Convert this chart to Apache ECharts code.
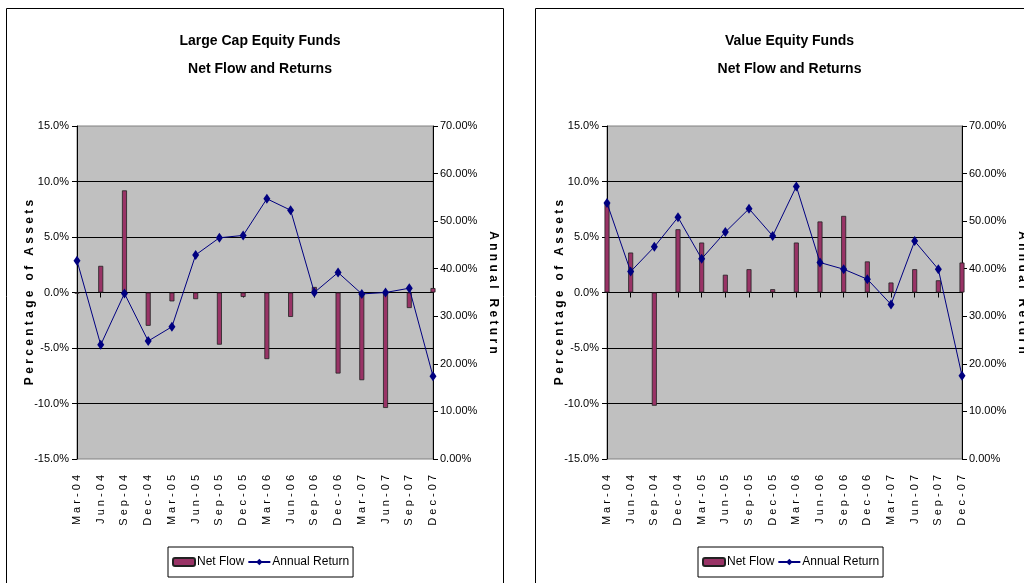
<!DOCTYPE html>
<html>
<head>
<meta charset="utf-8">
<script src="https://cdn.jsdelivr.net/npm/echarts@6/dist/echarts.min.js"></script>
<style>
  html, body { margin: 0; padding: 0; background: #fff; }
  #chart { width: 1024px; height: 583px; }
</style>
</head>
<body>
<div id="chart"></div>
<script>
// Quarter labels shared by both panels
const categories = ['Mar-04', 'Jun-04', 'Sep-04', 'Dec-04', 'Mar-05', 'Jun-05', 'Sep-05', 'Dec-05',
    'Mar-06', 'Jun-06', 'Sep-06', 'Dec-06', 'Mar-07', 'Jun-07', 'Sep-07', 'Dec-07'];

// Large Cap Equity Funds (net flow % of assets, annual return %)
const largeNetFlow = [-0.1, 2.4, 9.2, -3.0, -0.8, -0.6, -4.7, -0.4, -6.0, -2.2, 0.5, -7.3, -7.9, -10.4, -1.4, 0.4];
const largeReturn = [41.7, 24.0, 34.8, 24.8, 27.8, 42.9, 46.5, 47.0, 54.7, 52.3, 35.0, 39.2, 34.7, 35.0, 35.9, 17.4];

// Value Equity Funds
const valueNetFlow = [8.0, 3.6, -10.2, 5.7, 4.5, 1.6, 2.1, 0.3, 4.5, 6.4, 6.9, 2.8, 0.9, 2.1, 1.1, 2.7];
const valueReturn = [53.8, 39.4, 44.6, 50.8, 42.1, 47.7, 52.6, 46.9, 57.3, 41.3, 39.9, 37.8, 32.5, 45.8, 39.9, 17.5];

const font = '"Liberation Sans", Arial, sans-serif';
const spaced = s => s.split('').join(' ');

const chart = echarts.init(document.getElementById('chart'));

const panels = [
    { title: 'Large Cap Equity Funds\nNet Flow and Returns', left: 77, right: 433, legendLeft: 168, flow: largeNetFlow, ret: largeReturn },
    { title: 'Value Equity Funds\nNet Flow and Returns', left: 607, right: 962, legendLeft: 698, flow: valueNetFlow, ret: valueReturn }
];

const option = {
    animation: false,
    title: [], grid: [], xAxis: [], yAxis: [], legend: [], series: [],
    graphic: [
        { type: 'rect', shape: { x: 6.5, y: 8.5, width: 497, height: 620 }, style: { fill: 'none', stroke: '#000', lineWidth: 1 } },
        { type: 'rect', shape: { x: 535.5, y: 8.5, width: 600, height: 620 }, style: { fill: 'none', stroke: '#000', lineWidth: 1 } }
    ]
};

panels.forEach((p, i) => {
    const mid = (p.left + p.right) / 2;

    option.title.push({
        text: p.title,
        left: mid, top: 22, textAlign: 'center',
        textStyle: { fontFamily: font, fontSize: 14, fontWeight: 'bold', color: '#000', lineHeight: 28 }
    });

    option.grid.push({
        left: p.left, width: p.right - p.left, top: 126, height: 333,
        outerBoundsMode: 'none',
        show: true, backgroundColor: '#c0c0c0', borderColor: '#808080', borderWidth: 1
    });

    // bottom axis carries the labels, second axis sits on the zero line with the ticks
    option.xAxis.push({
        type: 'category', gridIndex: i, data: categories, boundaryGap: false, position: 'bottom',
        axisLine: { show: false, onZero: false }, axisTick: { show: false },
        axisLabel: {
            rotate: 90, interval: 0, margin: 16, color: '#000', fontFamily: font, fontSize: 11,
            formatter: v => spaced(v)
        }
    });
    option.xAxis.push({
        type: 'category', gridIndex: i, data: categories, boundaryGap: false, position: 'top',
        axisLine: { show: true, onZero: true, onZeroAxisIndex: i * 2, lineStyle: { color: '#000', width: 1 } },
        axisTick: { show: true, inside: true, length: 5, interval: 0, lineStyle: { color: '#000' } },
        axisLabel: { show: false }
    });

    option.yAxis.push({
        type: 'value', gridIndex: i, position: 'left', min: -15, max: 15, interval: 5,
        name: spaced('Percentage of Assets'), nameLocation: 'middle', nameGap: 41, nameMoveOverlap: false,
        nameTextStyle: { fontFamily: font, fontSize: 12, fontWeight: 'bold', color: '#000' },
        axisLine: { show: true, lineStyle: { color: '#000' } },
        axisTick: { show: true, length: 5, lineStyle: { color: '#000' } },
        axisLabel: { margin: 8, color: '#000', fontFamily: font, fontSize: 11, formatter: v => v.toFixed(1) + '%' },
        splitLine: { show: true, showMinLine: false, showMaxLine: false, lineStyle: { color: '#000', width: 1 } }
    });
    option.yAxis.push({
        type: 'value', gridIndex: i, position: 'right', min: 0, max: 70, interval: 10,
        name: spaced('Annual Return'), nameLocation: 'middle', nameGap: 54, nameRotate: -90, nameMoveOverlap: false,
        nameTextStyle: { fontFamily: font, fontSize: 12, fontWeight: 'bold', color: '#000' },
        axisLine: { show: true, lineStyle: { color: '#000' } },
        axisTick: { show: true, length: 5, lineStyle: { color: '#000' } },
        axisLabel: { margin: 7, color: '#000', fontFamily: font, fontSize: 11, formatter: v => v.toFixed(2) + '%' },
        splitLine: { show: false }
    });

    option.series.push({
        name: 'Net Flow', type: 'bar', xAxisIndex: i * 2, yAxisIndex: i * 2, data: p.flow,
        barWidth: 5, itemStyle: { color: '#993366', borderColor: '#222', borderWidth: 0.8 }
    });
    option.series.push({
        name: 'Annual Return', type: 'line', xAxisIndex: i * 2, yAxisIndex: i * 2 + 1, data: p.ret,
        symbol: 'diamond', symbolSize: [7, 10], z: 3,
        lineStyle: { color: '#000080', width: 1 }, itemStyle: { color: '#000080' }
    });

    option.legend.push({
        left: p.legendLeft, top: 547, orient: 'horizontal',
        data: [
            { name: 'Net Flow', seriesIndex: i * 2 },
            { name: 'Annual Return' }
        ],
        itemWidth: 22, itemHeight: 8, itemGap: 3, padding: [9, 4],
        borderColor: '#000', borderWidth: 1, backgroundColor: '#fff',
        selectedMode: false,
        textStyle: { fontFamily: font, fontSize: 12, color: '#000', padding: [0, 0, 0, -3] }
    });
});

chart.setOption(option);
</script>
</body>
</html>
